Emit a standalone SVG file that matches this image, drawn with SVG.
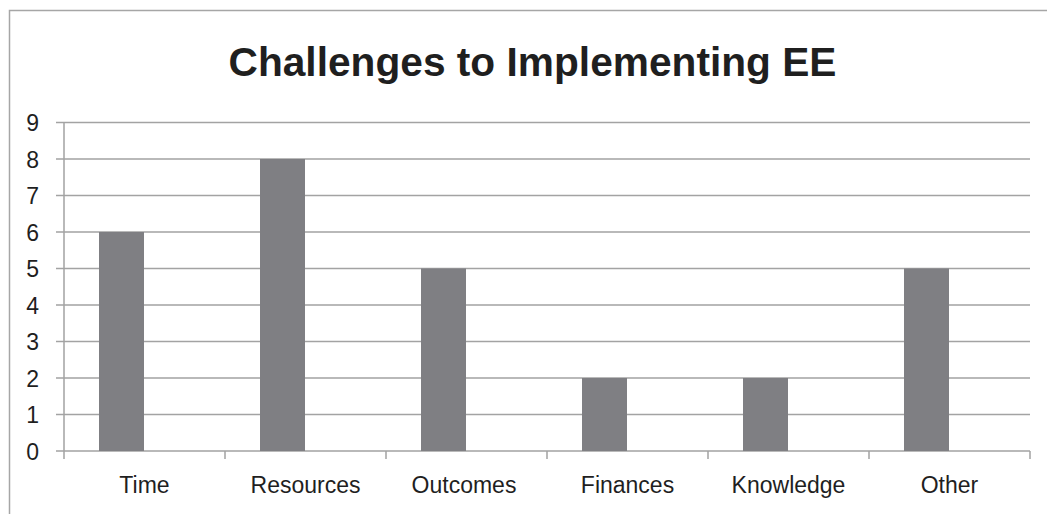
<svg xmlns="http://www.w3.org/2000/svg" width="1047" height="514" viewBox="0 0 1047 514">
<style>
.grid{stroke:#a3a3a3;stroke-width:1.5;fill:none}
.frame{stroke:#a6a6a6;stroke-width:1.5;fill:none}
.bar{fill:#7f7f83}
.ylab{font-family:"Liberation Sans",Arial,sans-serif;font-size:23px;fill:#1f1f1f;text-anchor:end}
.xlab{font-family:"Liberation Sans",Arial,sans-serif;font-size:23px;fill:#1f1f1f;text-anchor:middle}
.title{font-family:"Liberation Sans",Arial,sans-serif;font-size:40px;font-weight:bold;fill:#1f1f1f;text-anchor:middle}
</style>
<rect width="1047" height="514" fill="#ffffff"/>
<path class="frame" d="M9.5,514 V10.5 H1047"/>
<text class="title" x="532.5" y="75.5" textLength="608" lengthAdjust="spacingAndGlyphs">Challenges to Implementing EE</text>
<g id="gridlines">
<path class="grid" d="M56,122.5H1030M56,159H1030M56,195.5H1030M56,232H1030M56,268.5H1030M56,305H1030M56,341.5H1030M56,378H1030M56,414.5H1030M56,451H1030"/>
<path class="grid" d="M64,122.5V459M225,451V459M386,451V459M547,451V459M708,451V459M869,451V459M1030,451V459"/>
</g>
<g id="yaxis-labels">
<text class="ylab" x="39" y="131">9</text>
<text class="ylab" x="39" y="167.5">8</text>
<text class="ylab" x="39" y="204">7</text>
<text class="ylab" x="39" y="240.5">6</text>
<text class="ylab" x="39" y="277">5</text>
<text class="ylab" x="39" y="313.5">4</text>
<text class="ylab" x="39" y="350">3</text>
<text class="ylab" x="39" y="386.5">2</text>
<text class="ylab" x="39" y="423">1</text>
<text class="ylab" x="39" y="459.5">0</text>
</g>
<g id="bar-time"><rect class="bar" x="99" y="232" width="45" height="219"/><text class="xlab" x="144.5" y="493">Time</text></g>
<g id="bar-resources"><rect class="bar" x="260" y="159" width="45" height="292"/><text class="xlab" x="305.5" y="493">Resources</text></g>
<g id="bar-outcomes"><rect class="bar" x="421" y="268.5" width="45" height="182.5"/><text class="xlab" x="464" y="493">Outcomes</text></g>
<g id="bar-finances"><rect class="bar" x="582" y="378" width="45" height="73"/><text class="xlab" x="627.5" y="493">Finances</text></g>
<g id="bar-knowledge"><rect class="bar" x="743" y="378" width="45" height="73"/><text class="xlab" x="788.5" y="493">Knowledge</text></g>
<g id="bar-other"><rect class="bar" x="904" y="268.5" width="45" height="182.5"/><text class="xlab" x="949.5" y="493">Other</text></g>
</svg>
